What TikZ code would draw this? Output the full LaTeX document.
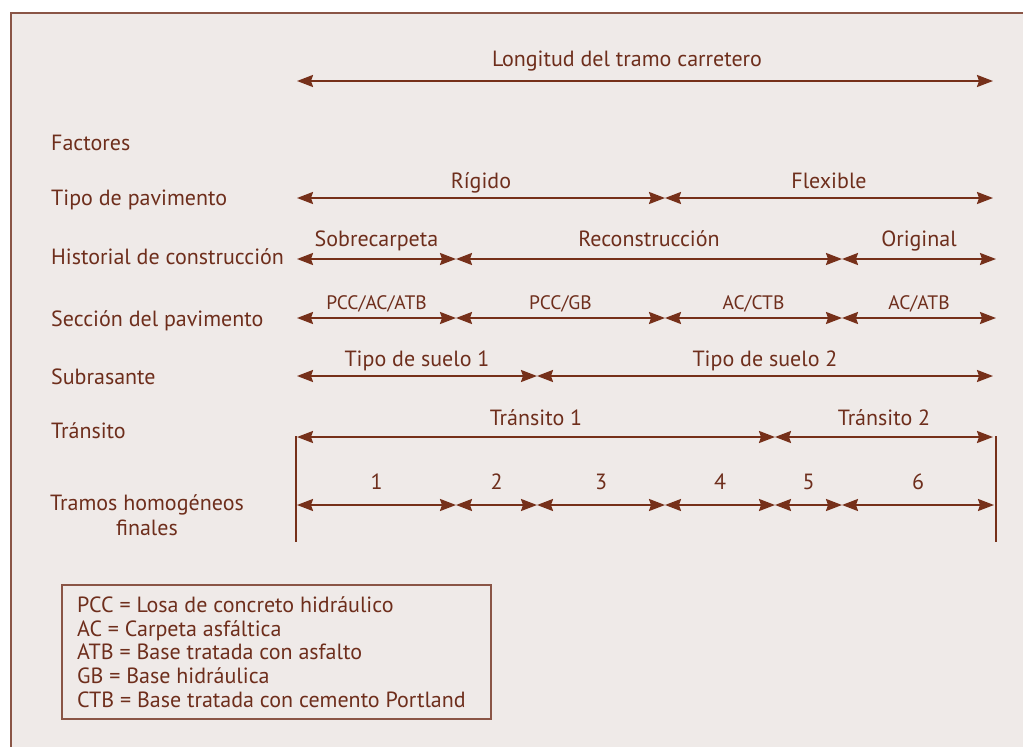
\documentclass[tikz,border=0pt]{standalone}
\usepackage{fontspec}
\setmainfont{PT Sans}
\usetikzlibrary{arrows.meta}
\definecolor{ink}{HTML}{6E2E1C}
\definecolor{rule}{HTML}{76301A}
\definecolor{paper}{HTML}{EFEAE8}
\definecolor{framec}{HTML}{8A5546}
\begin{document}
\begin{tikzpicture}[x=1pt,y=-1pt,
  txt/.style={text=ink, font=\fontsize{22}{26}\selectfont, inner sep=0pt},
  rowlabel/.style={txt, anchor=base west},
  lab/.style={txt, midway, anchor=base},
  smalllab/.style={lab, font=\fontsize{19.5}{23}\selectfont},
  span/.style={draw=rule, line width=2pt, {Stealth[length=16pt,width=12pt,inset=2pt]}-{Stealth[length=16pt,width=12pt,inset=2pt]}},
  bar/.style={draw=rule, line width=2pt},
]
\useasboundingbox (0,0) rectangle (1023,747);
% page and frame
\fill[white] (0,0) rectangle (1023,747);
\fill[paper] (11,13) rectangle (1023,747);
\draw[framec, line width=1.5pt] (1023,13) -- (11,13) -- (11,747);

% row labels
\node[rowlabel] (fac) at (51,150) {Factores};
\node[rowlabel] (tipo) at (51,205) {Tipo de pavimento};
\node[rowlabel] (hist) at (51,264) {Historial de construcción};
\node[rowlabel] (secc) at (51,326) {Sección del pavimento};
\node[rowlabel] (subr) at (51,384) {Subrasante};
\node[rowlabel] (tran) at (51,438) {Tránsito};
\node[txt, anchor=base] (tram) at (147,510) {Tramos homogéneos};
\node[txt, anchor=base] (fin) at (147,535) {finales};

% total length
\coordinate (L0) at (297,81);
\coordinate (L1) at (993,81);
\draw[span] (L0) -- (L1);
\node[txt, anchor=base] (long) at (627,66) {Longitud del tramo carretero};

% pavement type
\coordinate (P0) at (297,198);
\coordinate (P1) at (665,198);
\coordinate (P2) at (993,198);
\draw[span] (P0) -- node[lab, yshift=10pt] (rig) {Rígido} (P1);
\draw[span] (P1) -- node[lab, yshift=10pt] (flex) {Flexible} (P2);

% construction history
\coordinate (H0) at (297,259);
\coordinate (H1) at (456,259);
\coordinate (H2) at (842,259);
\coordinate (H3) at (996,259);
\draw[span] (H0) -- node[lab, yshift=13pt] (sob) {Sobrecarpeta} (H1);
\draw[span] (H1) -- node[lab, yshift=13pt] (rec) {Reconstrucción} (H2);
\draw[span] (H2) -- node[lab, yshift=13pt] (ori) {Original} (H3);

% pavement section
\coordinate (S0) at (297,318);
\coordinate (S1) at (456,318);
\coordinate (S2) at (665,318);
\coordinate (S3) at (842,318);
\coordinate (S4) at (996,318);
\draw[span] (S0) -- node[smalllab, yshift=9pt] (s1) {PCC/AC/ATB} (S1);
\draw[span] (S1) -- node[smalllab, yshift=9pt] (s2) {PCC/GB} (S2);
\draw[span] (S2) -- node[smalllab, yshift=9pt] (s3) {AC/CTB} (S3);
\draw[span] (S3) -- node[smalllab, yshift=9pt] (s4) {AC/ATB} (S4);

% subgrade
\coordinate (G0) at (297,376);
\coordinate (G1) at (537,376);
\coordinate (G2) at (993,376);
\draw[span] (G0) -- node[lab, yshift=10pt] (g1) {Tipo de suelo 1} (G1);
\draw[span] (G1) -- node[lab, yshift=10pt] (g2) {Tipo de suelo 2} (G2);

% traffic
\coordinate (T0) at (297,437);
\coordinate (T1) at (775,437);
\coordinate (T2) at (993,437);
\draw[span] (T0) -- node[lab, yshift=12pt] (t1) {Tránsito 1} (T1);
\draw[span] (T1) -- node[lab, yshift=12pt] (t2) {Tránsito 2} (T2);

% end bars
\coordinate (BL0) at (296,436);
\coordinate (BL1) at (296,542);
\coordinate (BR0) at (995.5,436);
\coordinate (BR1) at (995.5,542);
\draw[bar] (BL0) -- (BL1);
\draw[bar] (BR0) -- (BR1);

% final homogeneous sections
\coordinate (F0) at (297,505);
\coordinate (F1) at (456,505);
\coordinate (F2) at (537,505);
\coordinate (F3) at (665,505);
\coordinate (F4) at (775,505);
\coordinate (F5) at (842,505);
\coordinate (F6) at (994,505);
\draw[span] (F0) -- node[lab, yshift=16pt] (n1) {1} (F1);
\draw[span] (F1) -- node[lab, yshift=16pt] (n2) {2} (F2);
\draw[span] (F2) -- node[lab, yshift=16pt] (n3) {3} (F3);
\draw[span] (F3) -- node[lab, yshift=16pt] (n4) {4} (F4);
\draw[span] (F4) -- node[lab, yshift=16pt] (n5) {5} (F5);
\draw[span] (F5) -- node[lab, yshift=16pt] (n6) {6} (F6);

% legend
\coordinate (K0) at (62,585);
\coordinate (K1) at (491,719);
\draw[framec, line width=1.2pt] (K0) rectangle (K1);
\node[rowlabel] (k1) at (77,612.7) {PCC = Losa de concreto hidráulico};
\node[rowlabel] (k2) at (77,636.3) {AC = Carpeta asfáltica};
\node[rowlabel] (k3) at (77,659.9) {ATB = Base tratada con asfalto};
\node[rowlabel] (k4) at (77,683.5) {GB = Base hidráulica};
\node[rowlabel] (k5) at (77,707.1) {CTB = Base tratada con cemento Portland};
\end{tikzpicture}
\end{document}
